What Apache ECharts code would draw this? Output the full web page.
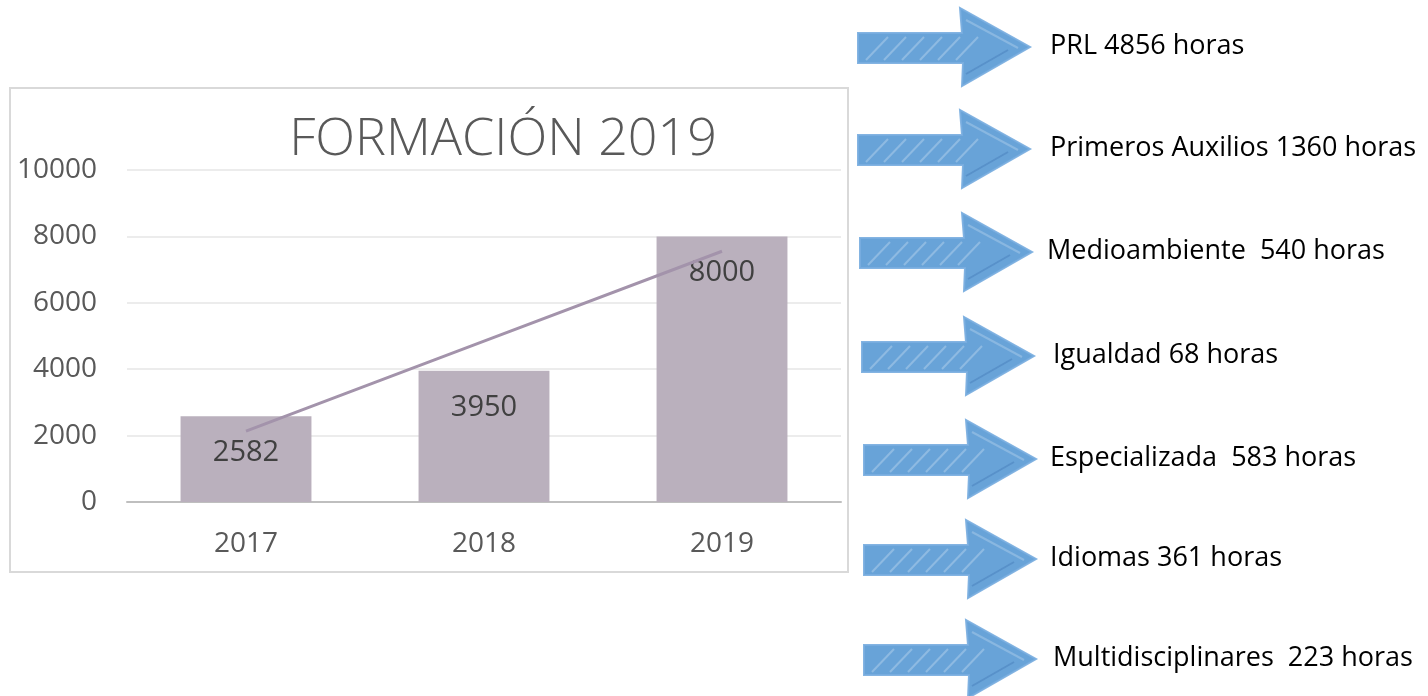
<!DOCTYPE html>
<html>
<head>
<meta charset="utf-8">
<title>Formación 2019</title>
<script src="https://cdn.jsdelivr.net/npm/echarts@6/dist/echarts.min.js"></script>
<style>
  html, body { margin: 0; padding: 0; background: #fff; }
  #main { width: 1428px; height: 696px; }
</style>
</head>
<body>
<div id="main"></div>
<script>
// datos del grafico
const years = ['2017', '2018', '2019']
const hours = [2582, 3950, 8000]
// linea de tendencia
const trendValues = [2135, 4844, 7553]
const yTicks = [0, 2000, 4000, 6000, 8000, 10000]

// cursos (flechas de la derecha)
const courseLabels = [
  'PRL 4856 horas',
  'Primeros Auxilios 1360 horas',
  'Medioambiente  540 horas',
  'Igualdad 68 horas',
  'Especializada  583 horas',
  'Idiomas 361 horas',
  'Multidisciplinares  223 horas'
]

const chart = echarts.init(document.getElementById('main'))

const arrowTops = [8, 110, 213, 317, 420, 520, 620]
const arrowLefts = [858, 858, 860, 862, 864, 864, 864]
const textX = [1050, 1050, 1047, 1053, 1050, 1050, 1053]

let graphics = [
  {
    type: 'rect',
    shape: { x: 10, y: 88, width: 838, height: 484 },
    style: { fill: 'none', stroke: '#d9d9d9', lineWidth: 2 },
    z: 0
  }
]

courseLabels.forEach((txt, i) => {
  const x = arrowLefts[i]
  const y = arrowTops[i]
  graphics.push({
    type: 'polygon',
    shape: {
      points: [
        [x, y + 25], [x + 104, y + 25], [x + 102, y], [x + 172, y + 39],
        [x + 104, y + 78], [x + 105, y + 55], [x, y + 55]
      ]
    },
    style: { fill: '#5b9bd5', stroke: '#7aaee0', lineWidth: 2, opacity: 0.92 }
  })
  // trazos claros para imitar el sombreado a mano
  for (let k = 0; k < 6; k++) {
    graphics.push({
      type: 'line',
      shape: { x1: x + 8 + k * 18, y1: y + 52, x2: x + 30 + k * 18, y2: y + 29 },
      style: { stroke: 'rgba(255,255,255,0.25)', lineWidth: 2 }
    })
  }
  graphics.push({
    type: 'line',
    shape: { x1: x + 108, y1: y + 12, x2: x + 160, y2: y + 40 },
    style: { stroke: 'rgba(255,255,255,0.22)', lineWidth: 2 }
  })
  graphics.push({
    type: 'line',
    shape: { x1: x + 108, y1: y + 66, x2: x + 150, y2: y + 42 },
    style: { stroke: 'rgba(40,90,160,0.25)', lineWidth: 2 }
  })
  graphics.push({
    type: 'text',
    x: textX[i],
    y: y + 38,
    style: {
      text: txt,
      fill: '#000',
      font: '27px "Open Sans", "Noto Sans", sans-serif',
      verticalAlign: 'middle'
    }
  })
})

chart.setOption({
  animation: false,
  title: {
    text: 'FORMACIÓN 2019',
    left: 498,
    textAlign: 'center',
    top: 109,
    textStyle: {
      fontFamily: '"Open Sans", "Noto Sans", sans-serif',
      fontWeight: 300,
      fontSize: 52,
      color: '#595959'
    }
  },
  grid: { left: 127, right: 587, top: 170, bottom: 194 },
  xAxis: {
    type: 'category',
    data: years,
    axisTick: { show: false },
    axisLine: { lineStyle: { color: '#bfbfbf', width: 2 } },
    axisLabel: {
      margin: 28,
      fontSize: 28,
      color: '#595959',
      fontFamily: '"Open Sans", sans-serif'
    }
  },
  yAxis: {
    type: 'value',
    min: yTicks[0],
    max: yTicks[yTicks.length - 1],
    interval: 2000,
    axisLine: { show: false },
    axisTick: { show: false },
    splitLine: { lineStyle: { color: '#ececec', width: 2 } },
    axisLabel: {
      margin: 30,
      fontSize: 28,
      color: '#595959',
      fontFamily: '"Open Sans", sans-serif',
      formatter: v => String(v)
    }
  },
  series: [
    {
      name: 'Horas',
      type: 'bar',
      data: hours,
      barWidth: '55%',
      itemStyle: { color: '#bab0bd' },
      label: {
        show: true,
        position: 'insideTop',
        distance: 22,
        fontSize: 29,
        color: '#404040',
        fontFamily: '"Open Sans", sans-serif'
      }
    },
    {
      name: 'Tendencia',
      type: 'line',
      data: trendValues,
      symbol: 'none',
      lineStyle: { color: '#a393ab', width: 3 },
      z: 3
    }
  ],
  graphic: graphics
})
</script>
</body>
</html>
